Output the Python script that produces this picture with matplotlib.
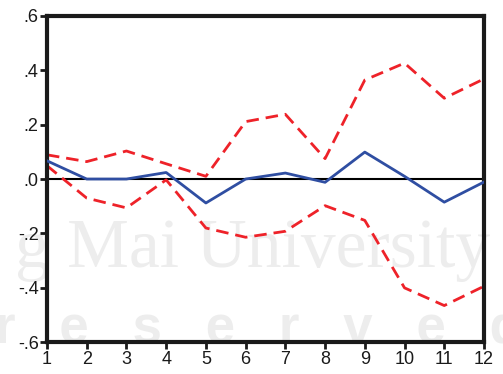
import matplotlib
matplotlib.use("Agg")
import matplotlib.pyplot as plt

# Impulse response (solid) with +/- 2 S.E. bands (dashed)
periods = [1, 2, 3, 4, 5, 6, 7, 8, 9, 10, 11, 12]
response = [0.067, 0.0, 0.0, 0.024, -0.088, 0.0, 0.022, -0.012, 0.099, 0.010, -0.085, -0.011]
upper_band = [0.089, 0.064, 0.103, 0.056, 0.010, 0.211, 0.238, 0.075, 0.364, 0.426, 0.297, 0.368]
lower_band = [0.049, -0.070, -0.106, -0.003, -0.180, -0.214, -0.192, -0.098, -0.152, -0.400, -0.465, -0.394]
y_ticks = [-0.6, -0.4, -0.2, 0.0, 0.2, 0.4, 0.6]
y_tick_labels = ["-.6", "-.4", "-.2", ".0", ".2", ".4", ".6"]

plt.rcParams["font.family"] = ["Liberation Sans", "DejaVu Sans"]

fig = plt.figure(figsize=(5.03, 3.74), dpi=100)
fig.patch.set_facecolor("white")

# faint background watermark, kept behind everything else
wm = "#ededed"
fig.text(0.03, 0.286, "g Mai University", fontsize=50, color=wm,
         family="Liberation Serif", zorder=-5, ha="left", va="baseline")
fig.text(-0.01, 0.083, "r   e   s   e   r   v   e   d", fontsize=38, color=wm,
         fontweight="bold", zorder=-5, ha="left", va="baseline")

ax = fig.add_axes([0.0934, 0.0848, 0.8688, 0.873])
ax.patch.set_alpha(0)

ax.axhline(0, color="black", lw=1.5, zorder=1)
ax.plot(periods, upper_band, color="#ee2229", lw=2.0, ls=(0, (4.5, 2.5)), zorder=2)
ax.plot(periods, lower_band, color="#ee2229", lw=2.0, ls=(0, (4.5, 2.5)), zorder=2)
ax.plot(periods, response, color="#2f4ea2", lw=2.0, zorder=3)

ax.set_xlim(1, 12)
ax.set_ylim(-0.6, 0.6)
ax.set_xticks(periods)
ax.set_xticklabels([str(p) for p in periods])
ax.set_yticks(y_ticks)
ax.set_yticklabels(y_tick_labels)

for s in ax.spines.values():
    s.set_linewidth(3)
    s.set_color("#1a1a1a")

ax.tick_params(axis="both", direction="out", length=5, width=2, color="#1a1a1a",
               labelsize=13, labelcolor="#1a1a1a")
ax.tick_params(axis="x", pad=1)
ax.tick_params(axis="y", pad=1)

fig.savefig("out.png", dpi=100, facecolor="white")
